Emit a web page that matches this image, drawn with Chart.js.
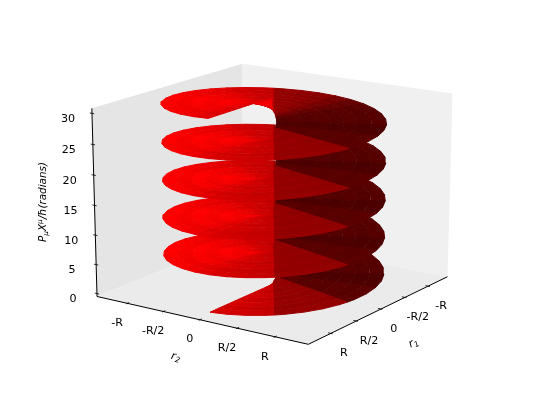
<!DOCTYPE html>
<html>
<head>
<meta charset="utf-8">
<title>Helicoid phase</title>
<script src="https://cdn.jsdelivr.net/npm/chart.js@4"></script>
<style>
html, body { margin: 0; padding: 0; background: #fff; }
canvas { display: block; }
</style>
</head>
<body>
<canvas id="chart" width="536" height="402"></canvas>
<script>
// tick values and labels
const r1Ticks = [1, 0.5, 0, -0.5, -1];
const r1TickLabels = ['R', 'R/2', '0', '-R/2', '-R'];
const r2Ticks = [-1, -0.5, 0, 0.5, 1];
const r2TickLabels = ['-R', '-R/2', '0', 'R/2', 'R'];
const zTicks = [0, 5, 10, 15, 20, 25, 30];

// helicoid rim for one turn (in units of R)
const rimAngle = [0, 10, 20, 30, 35, 40, 50, 60, 70, 75, 80, 90, 100, 110, 120, 130, 140, 150, 160, 170, 180, 190, 200, 210, 215, 220, 230, 240, 250, 260, 270, 280, 290, 300, 310, 320, 330, 340, 350, 360];
const rimR1 = [1.28, 1.261, 1.203, 1.109, 1.049, 0.981, 0.823, 0.64, 0.438, 0.331, 0.222, 0, -0.222, -0.438, -0.64, -0.823, -0.981, -1.109, -1.203, -1.261, -1.28, -1.261, -1.203, -1.109, -1.049, -0.981, -0.823, -0.64, -0.438, -0.222, 0, 0.222, 0.438, 0.64, 0.823, 0.981, 1.109, 1.203, 1.261, 1.28];
const rimR2 = [0, 0.222, 0.438, 0.64, 0.734, 0.823, 0.981, 1.109, 1.203, 1.236, 1.261, 1.28, 1.261, 1.203, 1.109, 0.981, 0.823, 0.64, 0.438, 0.222, 0, -0.222, -0.438, -0.64, -0.734, -0.823, -0.981, -1.109, -1.203, -1.261, -1.28, -1.261, -1.203, -1.109, -0.981, -0.823, -0.64, -0.438, -0.222, 0];
// phase gained inside a turn (radians) at each rim point
const rimRise = [0, 0.175, 0.349, 0.524, 0.611, 0.698, 0.873, 1.047, 1.222, 1.309, 1.396, 1.571, 1.745, 1.92, 2.094, 2.269, 2.443, 2.618, 2.793, 2.967, 3.142, 3.316, 3.491, 3.665, 3.752, 3.84, 4.014, 4.189, 4.363, 4.538, 4.712, 4.887, 5.061, 5.236, 5.411, 5.585, 5.76, 5.934, 6.109, 6.283];
const turnStart = [0, 6.283, 12.566, 18.85, 25.133];
// red channel of each sector between two rim points
const sectorRed = [214, 208, 200, 196, 152, 150, 150, 148, 146, 92, 90, 90, 78, 76, 86, 86, 88, 90, 102, 120, 136, 144, 150, 150, 196, 204, 212, 226, 236, 242, 248, 255, 255, 252, 250, 248, 246, 238, 226];
// rings across the sheet and how much each one is dimmed
const ringEdge = [0.02, 0.136, 0.253, 0.37, 0.487, 0.603, 0.72, 0.847, 0.973];
const ringDim = [0.97, 1, 0.97, 1, 0.97, 1, 0.97, 1];

// box limits of the 3d axes
const rLim = 1.43;
const zMin = -0.5;
const zMax = 30.8;

// camera, same idea as mplot3d; the box in the picture leans less sideways than it shrinks upward
const elev = 20 * Math.PI / 180;
const azim = 34.5 * Math.PI / 180;
const distX = 12, distY = 8;
const scaleX = 255.6, scaleY = 197.5, centerX = 274, centerY = 195.6;

function project(r1, r2, z) {
    const u = r1 / (2 * rLim);
    const v = r2 / (2 * rLim);
    const w = (z - zMin) / (zMax - zMin) - 0.5;
    const se = Math.sin(elev), ce = Math.cos(elev), sa = Math.sin(azim), ca = Math.cos(azim);
    const xr = -sa * u + ca * v;
    const yr = -se * ca * u - se * sa * v + ce * w;
    const depth = ce * ca * u + ce * sa * v + se * w;
    return {
        x: centerX + scaleX * xr * distX / (distX - depth),
        y: centerY - scaleY * yr * distY / (distY - depth),
        depth: depth
    };
}

function polygon(points, color, border) {
    return {
        data: points.map(p => ({ x: p.x, y: p.y })),
        showLine: true,
        fill: 'shape',
        backgroundColor: color,
        borderColor: color,
        borderWidth: border,
        pointRadius: 0,
        tension: 0
    };
}

function segment(a, b, width) {
    return {
        data: [{ x: a.x, y: a.y }, { x: b.x, y: b.y }],
        showLine: true,
        fill: false,
        borderColor: '#000',
        borderWidth: width,
        pointRadius: 0,
        tension: 0
    };
}

// panes
function buildPanes() {
    const L = rLim;
    return [
        polygon([project(L, -L, zMin), project(-L, -L, zMin), project(-L, -L, zMax), project(L, -L, zMax)], '#e5e5e5', 0),
        polygon([project(-L, -L, zMin), project(-L, L, zMin), project(-L, L, zMax), project(-L, -L, zMax)], '#f0f0f0', 0),
        polygon([project(L, -L, zMin), project(L, L, zMin), project(-L, L, zMin), project(-L, -L, zMin)], '#ebebeb', 0)
    ];
}

// helicoid cells, painted back to front
function buildSheet() {
    const cells = [];
    turnStart.forEach(start => {
        sectorRed.forEach((red, i) => {
            ringDim.forEach((dim, k) => {
                const a = ringEdge[k], b = ringEdge[k + 1];
                const z0 = start + rimRise[i], z1 = start + rimRise[i + 1];
                const pts = [
                    project(rimR1[i] * a, rimR2[i] * a, z0),
                    project(rimR1[i] * b, rimR2[i] * b, z0),
                    project(rimR1[i + 1] * b, rimR2[i + 1] * b, z1),
                    project(rimR1[i + 1] * a, rimR2[i + 1] * a, z1)
                ];
                const depth = pts.reduce((s, p) => s + p.depth, 0) / 4;
                cells.push({ pts, depth, color: 'rgb(' + Math.round(red * dim) + ',0,0)' });
            });
        });
    });
    cells.sort((p, q) => p.depth - q.depth);
    return cells.map(c => polygon(c.pts, c.color, 1));
}

function buildAxes() {
    const L = rLim, t = 0.03, out = [];
    out.push(segment(project(L, -L, zMin), project(L, L, zMin), 1));
    out.push(segment(project(L, L, zMin), project(-L, L, zMin), 1));
    out.push(segment(project(L, -L, zMin), project(L, -L, zMax), 1));
    r2Ticks.forEach(v => out.push(segment(project(L + t, v, zMin), project(L - t, v, zMin), 0.8)));
    r1Ticks.forEach(v => out.push(segment(project(v, L + t, zMin), project(v, L - t, zMin), 0.8)));
    zTicks.forEach(v => out.push(segment(project(L, -L - t, v), project(L, -L + t, v), 0.8)));
    return out;
}

const FONT = '"DejaVu Sans"';
const FS = 11.1;

// draws pieces of normal / small raised / small lowered text one after the other
function drawRuns(ctx, cx, cy, angle, size, runs) {
    ctx.save();
    ctx.translate(cx, cy);
    ctx.rotate(angle);
    ctx.textAlign = 'left';
    ctx.textBaseline = 'alphabetic';
    let total = 0;
    runs.forEach(r => {
        ctx.font = 'italic ' + (r.small ? size * 0.7 : size) + 'px ' + FONT;
        total += ctx.measureText(r.t).width;
    });
    let x = -total / 2;
    runs.forEach(r => {
        ctx.font = 'italic ' + (r.small ? size * 0.7 : size) + 'px ' + FONT;
        ctx.fillText(r.t, x, 4 + (r.dy || 0));
        x += ctx.measureText(r.t).width;
    });
    ctx.restore();
}

const axisText = {
    id: 'axisText',
    afterDatasetsDraw(chart) {
        const ctx = chart.ctx, L = rLim;
        ctx.save();
        ctx.fillStyle = '#000';
        ctx.font = FS + 'px ' + FONT;
        ctx.textAlign = 'center';
        ctx.textBaseline = 'middle';
        r2Ticks.forEach((v, i) => {
            const p = project(L, v, zMin);
            ctx.fillText(r2TickLabels[i], p.x - 10.5, p.y + 20);
        });
        r1Ticks.forEach((v, i) => {
            const p = project(v, L, zMin);
            ctx.fillText(r1TickLabels[i], p.x + 13.5, p.y + 20);
        });
        zTicks.forEach(v => {
            const p = project(L, -L, v);
            ctx.fillText(String(v), p.x - 24, p.y + 6);
        });
        drawRuns(ctx, 176, 356, 13 * Math.PI / 180, FS, [{ t: 'r' }, { t: '2', small: true, dy: 2 }]);
        drawRuns(ctx, 413, 342, -26 * Math.PI / 180, FS, [{ t: 'r' }, { t: '1', small: true, dy: 2 }]);
        drawRuns(ctx, 42, 202, -Math.PI / 2, 10.4, [
            { t: 'P' }, { t: 'μ', small: true, dy: 2 }, { t: 'X' }, { t: 'μ', small: true, dy: -4 },
            { t: '/ħ(radians)' }
        ]);
        ctx.restore();
    }
};

// Chart.js paints the first dataset last, so the list goes front to back
const datasets = [...buildAxes(), ...buildSheet().reverse(), ...buildPanes().reverse()];

new Chart(document.getElementById('chart'), {
    type: 'scatter',
    data: { datasets: datasets },
    options: {
        responsive: false,
        animation: false,
        events: [],
        layout: { padding: 0 },
        plugins: { legend: { display: false }, tooltip: { enabled: false }, title: { display: false } },
        scales: {
            x: { type: 'linear', display: false, min: 0, max: 536 },
            y: { type: 'linear', display: false, min: 0, max: 402, reverse: true }
        }
    },
    plugins: [axisText]
});
</script>
</body>
</html>
